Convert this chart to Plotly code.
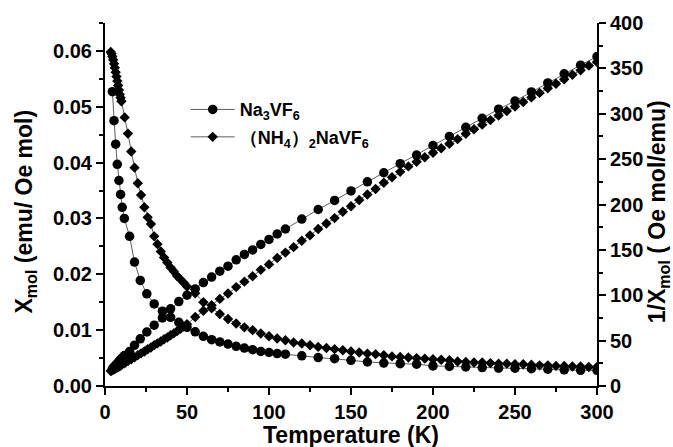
import plotly.graph_objects as go

# Na3VF6 (circles)
T_na = [4.5, 5.5, 6.5, 7.5, 8.5, 9.5, 10.5, 11.8, 15, 18, 21.5, 25.5, 30, 35, 40, 45, 50,
        55, 60, 65, 70, 75, 80, 85, 90, 95, 100, 105, 110, 120, 130, 140, 150, 160, 170,
        180, 190, 200, 210, 220, 230, 240, 250, 260, 270, 280, 290, 300]
chi_na = [0.0527, 0.0475, 0.0433, 0.0397, 0.0368, 0.0343, 0.0320, 0.0300, 0.0268, 0.0222,
          0.0189, 0.0165, 0.0147, 0.0134, 0.0123, 0.0114, 0.0105, 0.0097, 0.0089, 0.0083,
          0.0079, 0.0075, 0.0071, 0.0068, 0.0065, 0.0062, 0.0060, 0.0058, 0.0057, 0.0054,
          0.0051, 0.0049, 0.0046, 0.0043, 0.0041, 0.0040, 0.0039, 0.0036, 0.0035, 0.0034,
          0.0033, 0.0032, 0.0032, 0.0031, 0.0030, 0.0029, 0.0028, 0.0028]
inv_na = [19, 21, 23, 25, 27, 29, 31, 33.5, 38, 45, 52, 59.5, 67, 75, 85, 93, 100,
          107, 114, 120, 126.5, 132, 139, 145, 150, 156, 161.5, 167.5, 173, 184, 194.5,
          204.5, 215, 225, 235, 245, 254.5, 265, 275, 285, 295, 305, 314, 324, 334, 344,
          353.5, 363]

# (NH4)2NaVF6 (diamonds)
T_nh = [3.5, 4, 4.5, 5, 5.5, 6, 6.5, 7, 7.5, 8, 8.5, 9, 9.5, 10,
        12, 14, 16, 18, 20, 22, 24, 26, 28, 30, 32, 34, 36, 38, 40, 42, 44, 46, 48, 50,
        55, 60, 65, 70, 75, 80, 85, 90, 95, 100, 105, 110, 115, 120, 125, 130, 135, 140,
        145, 150, 155, 160, 165, 170, 175, 180, 185, 190, 195, 200, 205, 210, 215, 220,
        225, 230, 235, 240, 245, 250, 255, 260, 265, 270, 275, 280, 285, 290, 295, 300]
chi_nh = [0.0598, 0.0595, 0.0590, 0.0584, 0.0577, 0.0570, 0.0562, 0.0554, 0.0546, 0.0538,
          0.0530, 0.0522, 0.0516, 0.0510,
          0.0481, 0.0452, 0.0420, 0.0391, 0.0363, 0.0342, 0.0320, 0.0302, 0.0290, 0.0268,
          0.0254, 0.0241, 0.0230, 0.0221, 0.0212, 0.0205, 0.0197, 0.0191, 0.0185, 0.0178,
          0.0166, 0.0150, 0.0139, 0.0129, 0.0120, 0.0112, 0.0105, 0.0100, 0.0094, 0.0089,
          0.0085, 0.0082, 0.0078, 0.0076, 0.0073, 0.0070, 0.0068, 0.0066, 0.0064, 0.0062,
          0.0060, 0.0058, 0.0057, 0.0055, 0.0053, 0.0052, 0.0051, 0.0050, 0.0049, 0.0048,
          0.0047, 0.0046, 0.0044, 0.0043, 0.0042, 0.0042, 0.0041, 0.0040, 0.0040, 0.0039,
          0.0039, 0.0038, 0.0037, 0.0037, 0.0036, 0.0036, 0.0035, 0.0035, 0.0034, 0.0034]
inv_nh = [16.5, 17, 17.5, 18, 18.5, 19, 19.5, 20, 20.5, 21, 21.5, 22, 22.5, 23,
          25, 27.5, 29.5, 31.5, 34, 36, 38, 40.5, 42.5, 45, 47, 49, 51.5, 53.5, 56, 58,
          60.5, 63, 65.5, 68,
          76, 83, 89, 96, 102, 109, 115, 121, 128, 134, 141, 147, 153, 160, 166, 173, 179,
          185, 192, 198, 205, 211, 217, 224, 230, 236, 242, 247, 252, 257, 262, 267, 272,
          278, 283, 288, 293, 298, 303, 308, 313, 318, 323, 328, 333, 338, 343, 348, 353, 357]

x_title = "Temperature (K)"
y_title = "X<sub>mol</sub> (emu/ Oe mol)"
y2_title = "1/X<sub>mol</sub> ( Oe mol/emu)"

FONT = "Arial, 'Liberation Sans', sans-serif"
line_style = dict(color="#333333", width=0.8)
circ = dict(symbol="circle", size=9.5, color="black")
diam = dict(symbol="diamond", size=8, color="black")

fig = go.Figure()
fig.add_trace(go.Scatter(x=T_na, y=chi_na, mode="lines+markers", name="Na<sub>3</sub>VF<sub>6</sub>",
                         legendgroup="na", line=line_style, marker=circ))
fig.add_trace(go.Scatter(x=T_nh, y=chi_nh, mode="lines+markers",
                         name="（NH<sub>4</sub>）<sub>2</sub>NaVF<sub>6</sub>",
                         legendgroup="nh", line=line_style, marker=diam))
fig.add_trace(go.Scatter(x=T_na, y=inv_na, mode="lines+markers", yaxis="y2", showlegend=False,
                         legendgroup="na", line=line_style, marker=circ))
fig.add_trace(go.Scatter(x=T_nh, y=inv_nh, mode="lines+markers", yaxis="y2", showlegend=False,
                         legendgroup="nh", line=line_style, marker=diam))

tickfont = dict(family=FONT, size=20, color="black", weight="bold")
minor = dict(ticklen=4, tickwidth=1.5, tickcolor="black", ticks="outside")
axis_common = dict(showline=True, linecolor="black", linewidth=2, ticks="outside",
                   ticklen=7, tickwidth=2, tickcolor="black", showgrid=False, zeroline=False,
                   tickfont=tickfont)

title_font = dict(family=FONT, size=23, color="black", weight="bold")

fig.update_layout(
    width=673, height=447,
    margin=dict(l=105, r=76, t=23, b=61),
    plot_bgcolor="white", paper_bgcolor="white",
    font=dict(family=FONT, color="black"),
    showlegend=True,
    legend=dict(x=0.164, y=0.812, xanchor="left", yanchor="top", bgcolor="rgba(0,0,0,0)",
                font=dict(family=FONT, size=18, color="black", weight="bold"),
                itemwidth=44, tracegroupgap=1),
    xaxis=dict(range=[0, 300], dtick=50, tick0=0, minor=dict(dtick=25, **minor), **axis_common),
    yaxis=dict(range=[0, 0.065], dtick=0.01, tick0=0, tickformat=".2f",
               minor=dict(dtick=0.005, **minor), **axis_common),
    yaxis2=dict(range=[0, 400], dtick=50, tick0=0, overlaying="y", side="right",
                minor=dict(dtick=25, **minor), **axis_common),
    annotations=[
        dict(text=x_title, xref="paper", yref="paper", x=0.5, y=-0.136,
             xanchor="center", yanchor="middle", showarrow=False, font=title_font),
        dict(text=y_title, xref="paper", yref="paper", x=-0.161, y=0.48,
             xanchor="center", yanchor="middle", textangle=-90, showarrow=False, font=title_font),
        dict(text=y2_title, xref="paper", yref="paper", x=1.125, y=0.48,
             xanchor="center", yanchor="middle", textangle=-90, showarrow=False, font=title_font),
    ],
)

fig.write_html("out.html", config={"displayModeBar": False},
               post_script="document.body.style.margin='0';")
